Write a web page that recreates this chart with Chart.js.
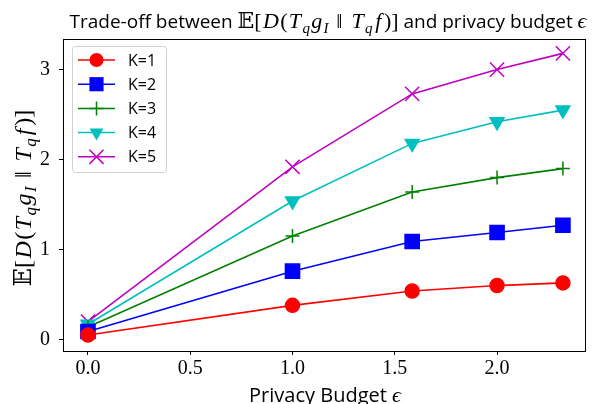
<!DOCTYPE html>
<html>
<head>
<meta charset="utf-8">
<script src="https://cdn.jsdelivr.net/npm/chart.js@4.4.1/dist/chart.umd.min.js"></script>
<style>
  html, body { margin: 0; padding: 0; background: #fff; }
  #wrap { width: 603px; height: 404px; }
</style>
</head>
<body>
<div id="wrap"><canvas id="tradeoffChart" width="603" height="404"></canvas></div>
<script>
// privacy budget values (x) and the divergence per K
const epsilons = [0, 1, 1.585, 2, 2.322];
const k1 = [0.05, 0.38, 0.54, 0.60, 0.63];
const k2 = [0.09, 0.76, 1.09, 1.19, 1.27];
const k3 = [0.14, 1.15, 1.64, 1.80, 1.90];
const k4 = [0.17, 1.54, 2.18, 2.42, 2.55];
const k5 = [0.20, 1.92, 2.73, 3.00, 3.18];
const seriesNames = ["K=1", "K=2", "K=3", "K=4", "K=5"];
const xTicks = [0, 0.5, 1, 1.5, 2];
const yTicks = [0, 1, 2, 3];

const SERIF = "'Liberation Serif', 'DejaVu Serif', serif";
const SANS = "'Open Sans', 'DejaVu Sans', sans-serif";

function pts(ys) {
    let out = [];
    for (let i = 0; i < ys.length; i++) out.push({x: epsilons[i], y: ys[i]});
    return out;
}

// draw a row of text pieces with different fonts (for the math bits)
function richWidth(ctx, segs) {
    let w = 0;
    for (s of segs) { ctx.font = s.f; w += ctx.measureText(s.t).width + (s.gap || 0); }
    return w;
}
function drawRich(ctx, segs, x, y) {
    let w = richWidth(ctx, segs);
    let cx = x - w / 2;
    ctx.textBaseline = "alphabetic";
    ctx.textAlign = "left";
    for (s of segs) {
        ctx.font = s.f;
        ctx.fillText(s.t, cx + (s.gap || 0) / 2, y + (s.dy || 0));
        cx += ctx.measureText(s.t).width + (s.gap || 0);
    }
}
function mathLabel(size) {
    let up = size + "px " + SERIF;
    let it = "italic " + size + "px " + SERIF;
    let sub = "italic " + Math.round(size * 0.7) + "px " + SERIF;
    let d = Math.round(size * 0.22);
    let g = size * 0.12;
    return [
        {t: "\u{1D53C}", f: size + "px 'DejaVu Serif', 'DejaVu Sans', serif"},
        {t: "[", f: up}, {t: "D", f: it, gap: g}, {t: "(", f: up},
        {t: "T", f: it, gap: g}, {t: "q", f: sub, dy: d},
        {t: "g", f: it, gap: g}, {t: "I", f: sub, dy: d},
        {t: "\u2016", f: up, gap: size * 0.7},
        {t: "T", f: it, gap: g}, {t: "q", f: sub, dy: d},
        {t: "f", f: it, gap: g * 2}, {t: ")]", f: up}
    ];
}

function drawMarker(ctx, style, x, y) {
    ctx.beginPath();
    if (style.shape == "circle") {
        ctx.arc(x, y, style.r, 0, Math.PI * 2);
        ctx.fill();
    } else if (style.shape == "rect") {
        let s = style.r * Math.SQRT1_2;
        ctx.fillRect(x - s, y - s, 2 * s, 2 * s);
    } else if (style.shape == "cross") {
        ctx.moveTo(x - style.r, y); ctx.lineTo(x + style.r, y);
        ctx.moveTo(x, y - style.r); ctx.lineTo(x, y + style.r);
        ctx.stroke();
    } else if (style.shape == "tri") {
        let r = style.r;
        ctx.moveTo(x - r * 0.866, y - r * 0.5);
        ctx.lineTo(x + r * 0.866, y - r * 0.5);
        ctx.lineTo(x, y + r);
        ctx.closePath();
        ctx.fill();
    } else if (style.shape == "x") {
        let s = style.r * Math.SQRT1_2;
        ctx.moveTo(x - s, y - s); ctx.lineTo(x + s, y + s);
        ctx.moveTo(x - s, y + s); ctx.lineTo(x + s, y - s);
        ctx.stroke();
    }
}

const colors = ["#ff0000", "#0000ff", "#008000", "#00bfbf", "#bf00bf"];
const markers = [
    {shape: "circle", r: 7},
    {shape: "rect", r: 10},
    {shape: "cross", r: 7},
    {shape: "tri", r: 8},
    {shape: "x", r: 10}
];

const decorations = {
    id: "decorations",
    afterDraw(chart) {
        const ctx = chart.ctx;
        const a = chart.chartArea;
        ctx.save();

        // frame around the plot
        ctx.strokeStyle = "#000";
        ctx.lineWidth = 1;
        ctx.strokeRect(Math.round(a.left) + 0.5, Math.round(a.top) + 0.5,
            Math.round(a.right - a.left), Math.round(a.bottom - a.top));

        // title
        ctx.fillStyle = "#000";
        let titleSegs = [{t: "Trade-off between ", f: "19px " + SANS}]
            .concat(mathLabel(22))
            .concat([{t: " and privacy budget ", f: "19px " + SANS},
                     {t: "\u03F5", f: "italic 22px " + SERIF}]);
        drawRich(ctx, titleSegs, 328, 28);

        // x axis label
        drawRich(ctx, [{t: "Privacy Budget ", f: "20px " + SANS},
                       {t: "\u03F5", f: "italic 22px " + SERIF}], 325, 402);

        // y axis label
        ctx.save();
        ctx.translate(31, (a.top + a.bottom) / 2 + 3);
        ctx.rotate(-Math.PI / 2);
        drawRich(ctx, mathLabel(24), 0, 0);
        ctx.restore();

        // legend
        let lx = 72.5, ly = 46.5, lw = 94, lh = 126;
        ctx.fillStyle = "rgba(255,255,255,0.8)";
        ctx.strokeStyle = "#d0d0d0";
        ctx.lineWidth = 1;
        ctx.beginPath();
        ctx.roundRect(lx, ly, lw, lh, 3);
        ctx.fill();
        ctx.stroke();
        for (let i = 0; i < seriesNames.length; i++) {
            let y = 60 + i * 24.2;
            ctx.strokeStyle = colors[i];
            ctx.fillStyle = colors[i];
            ctx.lineWidth = 1.5;
            ctx.beginPath();
            ctx.moveTo(78, y); ctx.lineTo(115, y);
            ctx.stroke();
            drawMarker(ctx, markers[i], 96.5, y);
            ctx.fillStyle = "#000";
            ctx.font = "16px " + SANS;
            ctx.textAlign = "left";
            ctx.textBaseline = "middle";
            ctx.fillText(seriesNames[i], 128, y + 1);
        }
        ctx.restore();
    }
};

const allSeries = [k1, k2, k3, k4, k5];
const chartStyles = [
    {pointStyle: "circle", pointRadius: 7, rotation: 0},
    {pointStyle: "rect", pointRadius: 10, rotation: 0},
    {pointStyle: "cross", pointRadius: 7, rotation: 0},
    {pointStyle: "triangle", pointRadius: 8, rotation: 180},
    {pointStyle: "crossRot", pointRadius: 10, rotation: 0}
];

let datasets = [];
for (let i = 0; i < allSeries.length; i++) {
    datasets.push({
        label: seriesNames[i],
        data: pts(allSeries[i]),
        borderColor: colors[i],
        backgroundColor: colors[i],
        borderWidth: 1.6,
        pointStyle: chartStyles[i].pointStyle,
        pointRadius: chartStyles[i].pointRadius,
        pointHoverRadius: chartStyles[i].pointRadius,
        pointRotation: chartStyles[i].rotation,
        pointBorderWidth: 1.5,
        pointBorderColor: colors[i],
        pointBackgroundColor: colors[i],
        tension: 0,
        fill: false
    });
}

new Chart(document.getElementById("tradeoffChart"), {
    type: "line",
    data: { datasets: datasets },
    plugins: [decorations],
    options: {
        responsive: false,
        animation: false,
        devicePixelRatio: 1,
        layout: { padding: { top: 39, right: 18, left: 0, bottom: 0 } },
        plugins: {
            legend: { display: false },
            title: { display: false },
            tooltip: { enabled: false }
        },
        scales: {
            x: {
                type: "linear",
                min: -0.122,
                max: 2.43,
                afterBuildTicks: (s) => { s.ticks = xTicks.map(v => ({value: v})); },
                afterFit: (s) => { s.height = 53; },
                border: { display: false },
                grid: { drawOnChartArea: false, drawTicks: true, tickLength: 4, color: "#000" },
                ticks: {
                    color: "#000",
                    font: { family: SERIF, size: 20 },
                    padding: 2,
                    maxRotation: 0,
                    callback: (v) => v.toFixed(1)
                }
            },
            y: {
                type: "linear",
                min: -0.127,
                max: 3.34,
                afterBuildTicks: (s) => { s.ticks = yTicks.map(v => ({value: v})); },
                afterFit: (s) => { s.width = 63; },
                border: { display: false },
                grid: { drawOnChartArea: false, drawTicks: true, tickLength: 4, color: "#000" },
                ticks: {
                    color: "#000",
                    font: { family: SERIF, size: 20 },
                    padding: 9,
                    callback: (v) => String(v)
                }
            }
        }
    }
});
</script>
</body>
</html>
